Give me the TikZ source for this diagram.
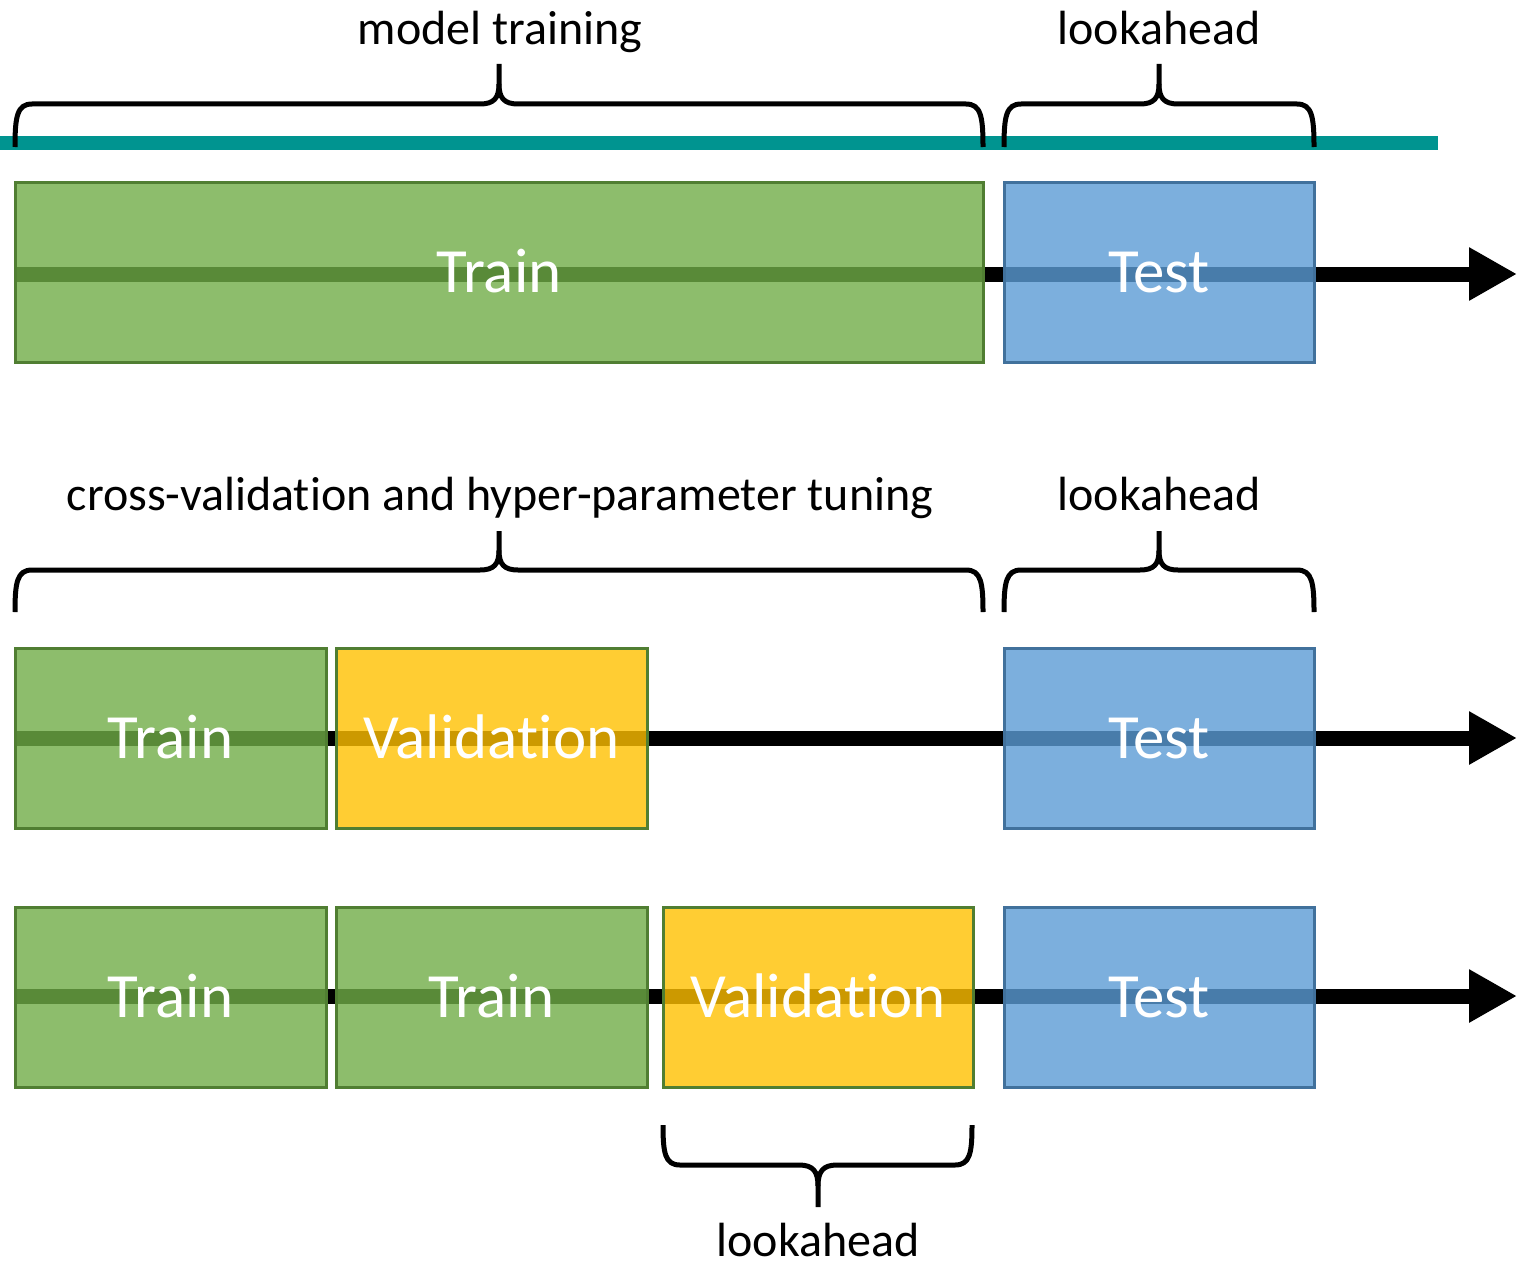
\documentclass[tikz,border=0pt]{standalone}
\usepackage{fontspec}
\setmainfont{Carlito}[Ligatures={NoCommon}]
\usetikzlibrary{arrows.meta}
\definecolor{gfill}{HTML}{70AD47}
\definecolor{gline}{HTML}{507E32}
\definecolor{bfill}{HTML}{5B9BD5}
\definecolor{bline}{HTML}{41719C}
\definecolor{yfill}{HTML}{FFC000}
\definecolor{tealline}{RGB}{0,148,144}
\tikzset{
  blk/.style={draw, line width=1.5pt, fill opacity=0.8, text opacity=1,
    minimum height=90pt, inner sep=0pt, text=white,
    font=\fontsize{31.5}{38}\selectfont, text height=20pt, text depth=0pt},
  trainbox/.style={blk, fill=gfill, draw=gline},
  testbox/.style={blk, fill=bfill, draw=bline},
  valbox/.style={blk, fill=yfill, draw=gline},
  timeline/.style={line width=7.5pt, black, -{Triangle[length=24pt,width=25pt]}},
  brace/.style={line width=2.5pt, black, line join=round},
  lbl/.style={anchor=base, inner sep=0pt, font=\fontsize{24}{29}\selectfont}
}
\newcommand\mybrace[6]{%
 \draw[brace] (#1,#4) .. controls (#1,{#5+(#4-#5)*0.3}) and ({#1+2},#5) .. ({#1+17},#5) -- ({#2-19},#5) .. controls ({#2-5},#5) and (#2,{#5+(#6-#5)*0.15}) .. (#2,{#5+(#6-#5)*0.5}) -- (#2,#6);
 \draw[brace] (#2,{#5+(#6-#5)*0.5}) .. controls (#2,{#5+(#6-#5)*0.15}) and ({#2+5},#5) .. ({#2+19},#5) -- ({#3-17},#5) .. controls ({#3-2},#5) and (#3,{#5+(#4-#5)*0.3}) .. (#3,#4);
}
\begin{document}
\begin{tikzpicture}[x=0.5pt,y=-0.5pt]
\useasboundingbox (0,0) rectangle (1524,1268);
% teal line
\coordinate (t0) at (0,143);
\coordinate (t1) at (1438,143);
\draw[tealline, line width=7pt] (t0) -- (t1);
% braces
\mybrace{15}{499}{983}{147}{104}{64}
\mybrace{1004}{1159}{1314}{147}{104}{64}
\mybrace{15}{499}{983}{612}{570}{531}
\mybrace{1004}{1159}{1314}{612}{570}{531}
\mybrace{663}{818}{972}{1125}{1165}{1207}
% labels
\node[lbl] (l1) at (500,45) {model training};
\node[lbl] (l2) at (1159,45) {lookahead};
\node[lbl] (l3) at (500,510) {cross-validation and hyper-parameter tuning};
\node[lbl] (l4) at (1159,510) {lookahead};
\node[lbl] (l5) at (818,1256) {lookahead};
% timelines
\coordinate (s1) at (15,274); \coordinate (e1) at (1517,274);
\coordinate (s2) at (15,738); \coordinate (e2) at (1517,738);
\coordinate (s3) at (15,996); \coordinate (e3) at (1517,996);
\draw[timeline] (s1) -- (e1);
\draw[timeline] (s2) -- (e2);
\draw[timeline] (s3) -- (e3);
% row 1
\node[trainbox, minimum width=484pt] (tr1) at (499,272.5) {Train};
\node[testbox, minimum width=155pt] (te1) at (1159,272.5) {Test};
% row 2
\node[trainbox, minimum width=155.5pt] (tr2) at (170.5,738.5) {Train};
\node[valbox, minimum width=155.5pt] (va2) at (491.5,738.5) {Validation};
\node[testbox, minimum width=155pt] (te2) at (1159,738.5) {Test};
% row 3
\node[trainbox, minimum width=155.5pt] (tr3a) at (170.5,997) {Train};
\node[trainbox, minimum width=155.5pt] (tr3b) at (491.5,997) {Train};
\node[valbox, minimum width=155pt] (va3) at (818,997) {Validation};
\node[testbox, minimum width=155pt] (te3) at (1159,997) {Test};
\end{tikzpicture}
\end{document}
